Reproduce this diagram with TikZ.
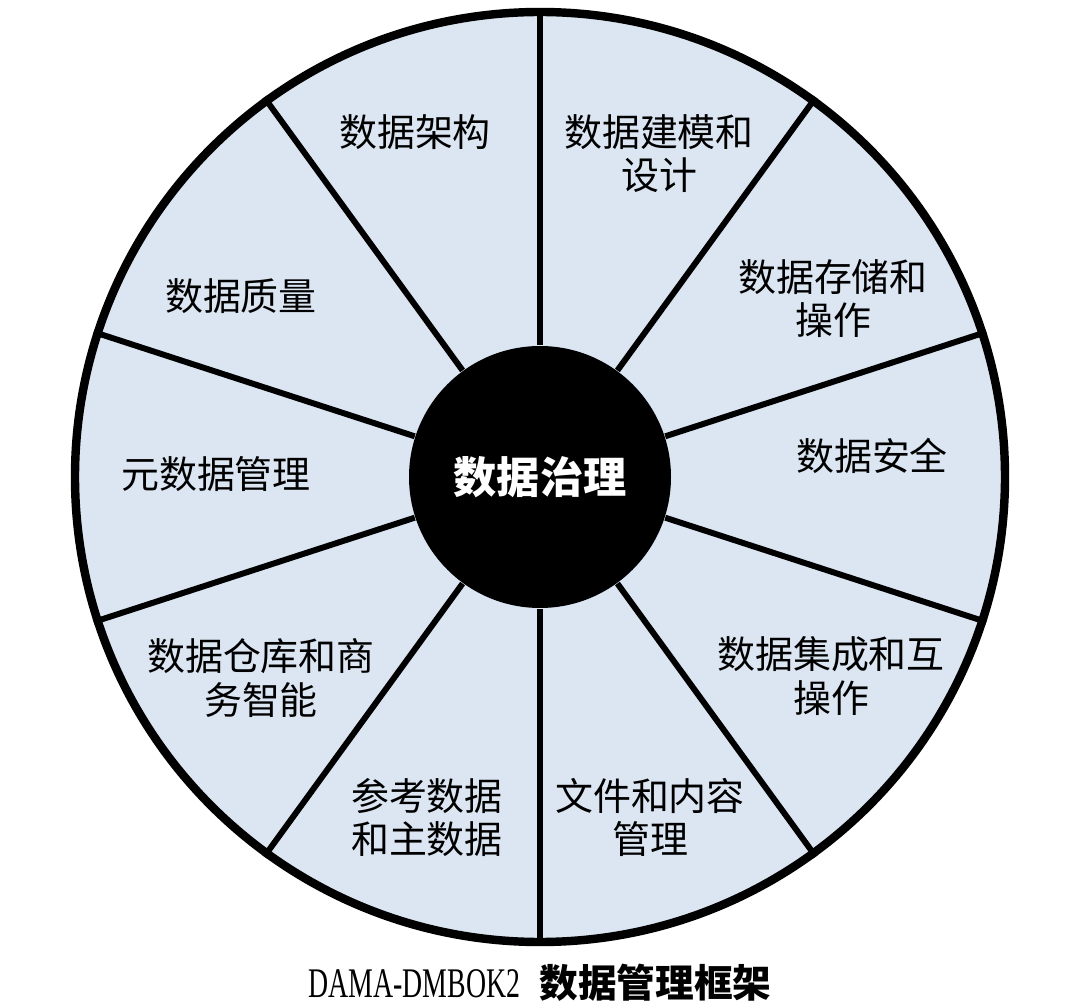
\documentclass[tikz,border=0pt]{standalone}
\usepackage{fontspec}
\setmainfont{Noto Sans CJK SC}
\newfontfamily\capfont[FakeStretch=0.66]{Liberation Serif}
\usetikzlibrary{positioning}
\definecolor{wheelBlue}{RGB}{220,230,242}
\tikzset{
    % Colors & shapes
    wheel/.style={circle, draw=black, line width=2.4pt, fill=wheelBlue,
                  minimum size=9.3cm, inner sep=0pt},
    hub/.style={circle, fill=black, minimum size=2.62cm, inner sep=0pt,
                text=white, font=\fontsize{12.3}{14}\selectfont\bfseries},
    % Lines & labels
    spoke/.style={line width=1.7pt, black},
    area/.style={align=center, inner sep=1pt, font=\fontsize{10.8}{12.4}\selectfont},
    caption/.style={inner sep=1pt, font=\fontsize{11}{13}\selectfont\bfseries}
}

\begin{document}
\begin{tikzpicture}
\useasboundingbox (-5.4,-5.28) rectangle (5.4,4.77);

\node[wheel] (wheel) at (0,0) {};
\node[hub] (hub) at (0,0) {数据治理};

\foreach \a in {18,54,...,342}
    \draw[spoke] (hub.\a) -- (wheel.\a);

\node[area] (arch)  at (-1.25, 3.45)  {数据架构};
\node[area] (model) at (1.19, 3.235)  {数据建模和\\设计};
\node[area] (store) at (2.93, 1.785)  {数据存储和\\操作};
\node[area] (sec)   at (3.32, 0.21)   {数据安全};
\node[area] (integ) at (2.91, -1.99)  {数据集成和互\\操作};
\node[area] (doc)   at (1.10, -3.405) {文件和内容\\管理};
\node[area] (ref)   at (-1.13, -3.405) {参考数据\\和主数据};
\node[area] (dw)    at (-2.79, -2.01) {数据仓库和商\\务智能};
\node[area] (meta)  at (-3.24, 0.03)  {元数据管理};
\node[area] (qual)  at (-2.99, 1.81)  {数据质量};

\node[caption] (title) at (0,-5.06)
    {{\capfont\mdseries\fontsize{12}{14}\selectfont DAMA-DMBOK2}\hspace{0.5em}数据管理框架};

\end{tikzpicture}
\end{document}
